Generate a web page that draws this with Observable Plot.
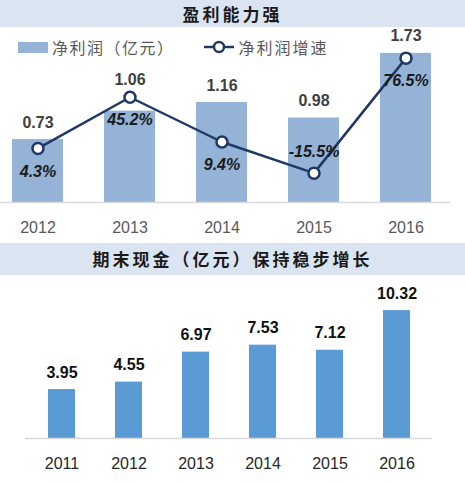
<!DOCTYPE html>
<html>
<head>
<meta charset="utf-8">
<script src="https://cdn.jsdelivr.net/npm/d3@7"></script>
<script src="https://cdn.jsdelivr.net/npm/@observablehq/plot@0.6"></script>
<style>
  body { margin: 0; background: #fff; }
  #wrap { width: 465px; position: relative; font-family: "Noto Sans CJK SC", sans-serif; }
  .band { background: #dbe5f1; color: #1a1a1a; font-weight: bold; text-align: center; font-size: 17px; letter-spacing: 3px; }
  #top { position: relative; height: 216px; }
  #legend { position: absolute; left: 18px; top: 8px; display: flex; align-items: center; font-size: 16px; color: #595959; letter-spacing: 1.5px; }
  #legend .sw { width: 30px; height: 11px; background: #95b3d7; margin-right: 4px; }
</style>
</head>
<body>
<div id="wrap">
  <div class="band" style="height:27px;line-height:27px">盈利能力强</div>
  <div id="top">
    <div id="legend">
      <span class="sw"></span><span>净利润（亿元）</span>
      <svg width="32" height="14" style="margin-left:28px;margin-right:4px">
        <line x1="1" x2="31" y1="7" y2="7" stroke="#1f3864" stroke-width="2.5"></line>
        <circle cx="16" cy="7" r="5" fill="#fff" stroke="#1f3864" stroke-width="2.5"></circle>
      </svg>
      <span style="letter-spacing:2px">净利润增速</span>
    </div>
  </div>
  <div class="band" style="height:32px;line-height:32px">期末现金（亿元）保持稳步增长</div>
  <div id="bottom"></div>
</div>
<script>
// 盈利能力
const years1 = ["2012", "2013", "2014", "2015", "2016"];
const profit = [0.73, 1.06, 1.16, 0.98, 1.73];   // 净利润（亿元）
const growth = [4.3, 45.2, 9.4, -15.5, 76.5];    // 净利润增速 %

// 期末现金
const years2 = ["2011", "2012", "2013", "2014", "2015", "2016"];
const cash = [3.95, 4.55, 6.97, 7.53, 7.12, 10.32];

const rows1 = years1.map((year, i) => ({year, profit: profit[i], growth: growth[i]}));
const rows2 = years2.map((year, i) => ({year, cash: cash[i]}));

// secondary axis for the growth line, mapped onto the profit scale
const g2y = d3.scaleLinear([-39, 101], [0, 2.03]);

const lineColor = "#1f3864";
const numFont = "'Liberation Sans', Arial, sans-serif";

let chartTop = Plot.plot({
  width: 465,
  height: 216,
  marginTop: 0,
  marginBottom: 41,
  marginLeft: 0,
  marginRight: 15,
  x: {domain: years1, paddingInner: 0.45, paddingOuter: 0.17, align: 0.38, label: null, tickSize: 0, tickPadding: 19},
  y: {domain: [0, 2.03], axis: null},
  style: {fontFamily: numFont, fontSize: "16px", color: "#595959", background: "transparent", overflow: "visible"},
  marks: [
    Plot.barY(rows1, {x: "year", y: "profit", fill: "#95b3d7"}),
    Plot.ruleY([0], {stroke: "#d9d9d9", strokeWidth: 1.5}),
    Plot.line(rows1, {x: "year", y: d => g2y(d.growth), stroke: lineColor, strokeWidth: 2.5}),
    Plot.dot(rows1, {x: "year", y: d => g2y(d.growth), r: 5.5, fill: "white", stroke: lineColor, strokeWidth: 2.5}),
    // value above bar, or above the marker when the marker is higher
    Plot.text(rows1, {x: "year", y: d => Math.max(d.profit, g2y(d.growth)), text: d => d.profit.toFixed(2),
      dy: -17, fontWeight: "bold", fontSize: 16, fill: "#404040"}),
    Plot.text(rows1.filter(d => d.growth >= 0), {x: "year", y: d => g2y(d.growth), text: d => d.growth.toFixed(1) + "%",
      dy: 23, fontWeight: "bold", fontStyle: "italic", fontSize: 16, fill: "#1a1a1a"}),
    Plot.text(rows1.filter(d => d.growth < 0), {x: "year", y: d => g2y(d.growth), text: d => d.growth.toFixed(1) + "%",
      dy: -21, fontWeight: "bold", fontStyle: "italic", fontSize: 16, fill: "#1a1a1a"})
  ]
});
d3.select("#top").append(() => chartTop);

let chartBottom = Plot.plot({
  width: 465,
  height: 207,
  marginTop: 0,
  marginBottom: 44,
  marginLeft: 25,
  marginRight: 33,
  x: {domain: years2, paddingInner: 0.6, paddingOuter: 0.3, label: null, tickSize: 0, tickPadding: 19},
  y: {domain: [0, 13.15], axis: null},
  style: {fontFamily: numFont, fontSize: "16px", color: "#262626", background: "transparent", overflow: "visible"},
  marks: [
    Plot.barY(rows2, {x: "year", y: "cash", fill: "#5b9bd5"}),
    Plot.ruleY([0], {stroke: "#d9d9d9", strokeWidth: 1.5}),
    Plot.text(rows2, {x: "year", y: "cash", text: d => d.cash.toFixed(2), dy: -17,
      fontWeight: "bold", fontSize: 16, fill: "#111"})
  ]
});
d3.select("#bottom").append(() => chartBottom);
</script>
</body>
</html>
